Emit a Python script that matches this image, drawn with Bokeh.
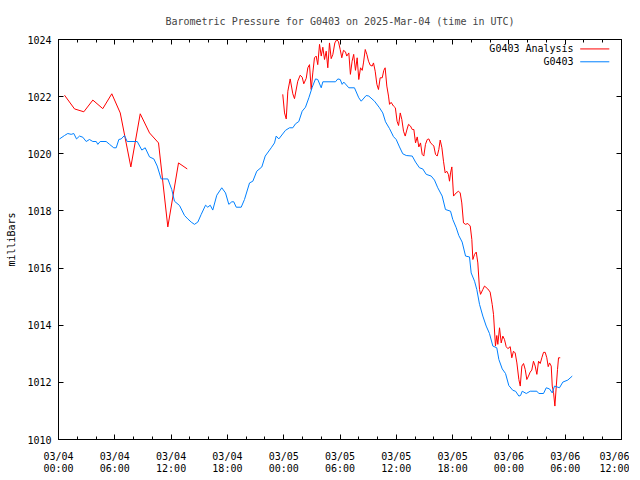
from bokeh.plotting import figure
from bokeh.models import Range1d, FixedTicker, LinearAxis, CustomJSTickFormatter
from bokeh.embed import file_html
from bokeh.resources import INLINE
from bokeh.core.properties import value

# hours since 2025-03-04 00:00 UTC
tick_hours = [0, 6, 12, 18, 24, 30, 36, 42, 48, 54, 60]
tick_labels = ["03/04\n00:00", "03/04\n06:00", "03/04\n12:00", "03/04\n18:00",
               "03/05\n00:00", "03/05\n06:00", "03/05\n12:00", "03/05\n18:00",
               "03/06\n00:00", "03/06\n06:00", "03/06\n12:00"]
y_ticks = [1010, 1012, 1014, 1016, 1018, 1020, 1022, 1024]

# G0403 Analysis (red), first segment
red1_hours = [0.64, 1.71, 2.70, 3.66, 4.72, 5.68, 6.58, 7.71, 8.71, 9.70, 10.66, 11.65, 12.79, 13.72]
red1_mb = [1022.05, 1021.57, 1021.47, 1021.88, 1021.58, 1022.10, 1021.43, 1019.54, 1021.40,
           1020.73, 1020.38, 1017.44, 1019.68, 1019.47]

# G0403 Analysis (red), second segment
red2_hours = [23.90, 24.09, 24.27, 24.44, 24.69, 24.97, 25.15, 25.50, 25.76, 25.97, 26.14, 26.40,
              26.57, 26.75, 26.93, 27.10, 27.28, 27.46, 27.63, 27.82, 28.00, 28.17, 28.35, 28.53,
              28.70, 28.88, 29.06, 29.24, 29.45, 29.66, 29.84, 30.02, 30.19, 30.37, 30.58, 30.72,
              30.94, 31.11, 31.29, 31.46, 31.65, 31.83, 32.00, 32.19, 32.37, 32.50, 32.69, 32.86,
              33.04, 33.22, 33.43, 33.57, 33.75, 33.93, 34.10, 34.28, 34.50, 34.67, 34.81, 34.99,
              35.17, 35.28, 35.45, 35.70, 35.90, 36.08, 36.24, 36.42, 36.59, 36.77, 36.95, 37.12,
              37.30, 37.51, 37.70, 37.87, 38.05, 38.23, 38.40, 38.58, 38.76, 38.93, 39.11, 39.30,
              39.47, 39.65, 39.83, 40.00, 40.18, 40.36, 40.53, 40.68, 40.86, 41.03, 41.21, 41.38,
              41.56, 41.67, 41.78, 41.92, 42.10, 42.38, 42.63, 42.81, 42.98, 43.16, 43.38, 43.62,
              43.88, 44.05, 44.16, 44.34, 44.52, 44.69, 44.87, 44.98, 45.22, 45.40, 45.75, 46.00,
              46.22, 46.36, 46.57, 46.71, 46.82, 47.00, 47.18, 47.35, 47.53, 47.71, 47.89, 48.14,
              48.31, 48.49, 48.67, 48.85, 49.06, 49.21, 49.38, 49.56, 49.74, 49.91, 50.09, 50.27,
              50.44, 50.62, 50.80, 50.98, 51.16, 51.34, 51.51, 51.69, 51.87, 52.04, 52.19, 52.33,
              52.51, 52.62, 52.76, 52.90, 53.05, 53.18, 53.29, 53.47]
red2_mb = [1022.08, 1021.43, 1021.22, 1022.19, 1022.62, 1022.10, 1021.93, 1022.54, 1022.75, 1022.68,
           1022.45, 1022.64, 1023.01, 1023.12, 1022.25, 1022.83, 1023.36, 1023.42, 1023.12, 1023.83,
           1023.42, 1023.73, 1023.30, 1023.59, 1023.01, 1023.88, 1023.33, 1023.48, 1023.88, 1024.00,
           1023.92, 1023.65, 1023.36, 1023.62, 1023.57, 1023.42, 1023.53, 1022.78, 1023.24, 1023.48,
           1022.92, 1023.36, 1022.60, 1023.01, 1022.92, 1023.18, 1023.65, 1023.48, 1023.24, 1023.10,
           1023.07, 1023.18, 1022.89, 1022.43, 1022.25, 1022.66, 1022.66, 1022.92, 1023.01, 1022.37,
           1022.02, 1021.73, 1021.80, 1021.67, 1021.61, 1021.14, 1020.99, 1021.43, 1021.20, 1020.79,
           1020.62, 1020.83, 1021.03, 1020.97, 1020.85, 1020.85, 1020.38, 1020.59, 1020.24, 1020.38,
           1019.98, 1019.92, 1020.33, 1020.50, 1020.52, 1020.38, 1020.33, 1020.27, 1019.98, 1019.92,
           1020.15, 1020.48, 1020.21, 1019.74, 1019.33, 1019.39, 1019.27, 1019.04, 1019.33, 1019.54,
           1018.52, 1018.63, 1018.69, 1018.63, 1018.28, 1017.58, 1017.53, 1017.56, 1017.47, 1017.00,
           1016.30, 1016.48, 1016.56, 1016.18, 1015.25, 1015.08, 1015.25, 1015.37, 1015.27, 1015.16,
           1014.73, 1014.38, 1013.27, 1013.64, 1013.33, 1013.91, 1013.38, 1013.62, 1013.50, 1013.25,
           1013.18, 1013.25, 1012.86, 1013.09, 1013.03, 1012.68, 1012.10, 1011.87, 1012.57, 1012.66,
           1012.45, 1012.10, 1012.22, 1012.36, 1012.43, 1012.74, 1012.57, 1012.28, 1012.74, 1012.66,
           1012.86, 1013.05, 1013.05, 1012.86, 1012.55, 1012.68, 1012.57, 1011.87, 1011.64, 1011.17,
           1011.87, 1012.45, 1012.86, 1012.86]

# G0403 observations (blue)
blue_hours = [0.11, 0.64, 0.99, 1.35, 1.63, 1.92, 2.24, 2.59, 2.95, 3.30, 3.66, 4.02, 4.19, 4.44,
              5.08, 5.44, 5.89, 6.15, 6.43, 6.68, 7.03, 7.32, 8.39, 8.88, 9.24, 9.70, 10.16, 10.52,
              10.94, 11.65, 12.07, 12.36, 12.90, 13.43, 13.78, 14.14, 14.49, 14.85, 15.21, 15.67,
              15.91, 16.17, 16.44, 16.87, 17.40, 17.80, 18.15, 18.47, 18.68, 18.94, 19.47, 19.82,
              20.36, 20.71, 21.13, 21.67, 22.03, 22.67, 23.02, 23.20, 23.48, 24.19, 24.62, 24.97,
              25.26, 25.61, 25.97, 26.32, 26.68, 27.04, 27.39, 27.63, 28.00, 28.17, 29.52, 29.77,
              30.02, 30.23, 30.40, 30.94, 31.54, 32.00, 32.26, 32.79, 33.07, 33.68, 34.21, 34.56,
              34.85, 35.28, 35.70, 35.99, 36.34, 36.69, 37.06, 37.70, 38.05, 38.47, 38.82, 39.19,
              39.72, 40.07, 40.42, 40.89, 41.24, 41.78, 42.02, 42.39, 42.66, 43.02, 43.38, 43.80,
              43.98, 44.34, 44.58, 44.87, 45.22, 45.58, 45.93, 46.29, 46.71, 46.93, 47.29, 47.64,
              47.99, 48.42, 48.71, 49.06, 49.24, 49.42, 49.85, 50.27, 50.98, 51.19, 51.69, 51.98,
              52.33, 52.62, 52.86, 53.39, 53.75, 54.28, 54.75]
blue_mb = [1020.52, 1020.64, 1020.71, 1020.68, 1020.71, 1020.52, 1020.62, 1020.58, 1020.43, 1020.50,
           1020.43, 1020.43, 1020.33, 1020.43, 1020.43, 1020.33, 1020.21, 1020.21, 1020.50, 1020.52,
           1020.64, 1020.43, 1020.43, 1020.13, 1020.21, 1019.89, 1019.82, 1019.57, 1019.12, 1019.12,
           1018.75, 1018.34, 1018.19, 1017.84, 1017.72, 1017.61, 1017.53, 1017.61, 1017.88, 1018.20,
           1018.13, 1018.20, 1018.03, 1018.55, 1018.81, 1018.63, 1018.23, 1018.32, 1018.32, 1018.13,
           1018.13, 1018.40, 1018.98, 1019.04, 1019.39, 1019.54, 1019.92, 1020.21, 1020.38, 1020.62,
           1020.52, 1020.82, 1020.91, 1020.91, 1021.05, 1021.13, 1021.49, 1021.63, 1021.96, 1022.33,
           1022.62, 1022.60, 1022.31, 1022.52, 1022.52, 1022.62, 1022.60, 1022.43, 1022.51, 1022.31,
           1022.31, 1021.96, 1021.84, 1022.04, 1022.02, 1021.84, 1021.61, 1021.43, 1021.12, 1020.88,
           1020.60, 1020.50, 1020.24, 1020.00, 1019.94, 1019.92, 1019.71, 1019.51, 1019.47, 1019.28,
           1019.22, 1019.08, 1018.81, 1018.52, 1018.05, 1017.99, 1017.70, 1017.41, 1017.14, 1016.91,
           1016.42, 1016.39, 1015.83, 1015.54, 1015.25, 1014.73, 1014.32, 1013.97, 1013.71, 1013.27,
           1013.21, 1012.80, 1012.47, 1012.31, 1011.89, 1011.72, 1011.69, 1011.52, 1011.54, 1011.69,
           1011.61, 1011.69, 1011.69, 1011.61, 1011.61, 1011.81, 1011.77, 1011.63, 1011.87, 1011.81,
           1012.01, 1012.08, 1012.22]

series_names = ["G0403 Analysis", "G0403"]
series_colors = ["#ff0000", "#0080ff"]

FONT = "DejaVu Sans Mono"
FS = "10px"

p = figure(frame_width=563, frame_height=400,
           x_range=Range1d(0, 60), y_range=Range1d(1010, 1024),
           output_backend="svg", toolbar_location=None,
           min_border_left=58, min_border_top=39, min_border_right=8, min_border_bottom=5,
           title="Barometric Pressure for G0403 on 2025-Mar-04 (time in UTC)")
p.title.text_font = FONT
p.title.text_font_size = FS
p.title.text_font_style = "normal"
p.title.align = "center"
p.title.standoff = 26
p.xgrid.visible = False
p.ygrid.visible = False
p.outline_line_color = "black"
p.outline_line_alpha = 1.0
p.background_fill_color = "white"
p.border_fill_color = "white"

xt = FixedTicker(ticks=tick_hours, minor_ticks=list(range(0, 61, 2)))
yt = FixedTicker(ticks=y_ticks, minor_ticks=[])

def style_axis(ax):
    ax.axis_line_color = "black"
    ax.major_tick_line_color = "black"
    ax.minor_tick_line_color = "black"
    ax.major_tick_in = 5
    ax.major_tick_out = 0
    ax.minor_tick_in = 3
    ax.minor_tick_out = 0
    ax.major_label_text_font = FONT
    ax.major_label_text_font_size = FS
    ax.major_label_text_color = "black"
    ax.axis_label_text_font = FONT
    ax.axis_label_text_font_size = FS
    ax.axis_label_text_font_style = "normal"
    ax.axis_label_text_color = "black"

xa = p.xaxis[0]
xa.ticker = xt
xa.major_label_overrides = {h: lab for h, lab in zip(tick_hours, tick_labels)}
style_axis(xa)
xa.major_label_text_line_height = 1.1
xa.major_label_standoff = 11

ya = p.yaxis[0]
ya.ticker = yt
style_axis(ya)
ya.major_label_standoff = 7
ya.axis_label = "milliBars"
ya.axis_label_standoff = 7

blank = CustomJSTickFormatter(code="return '';")

top = LinearAxis(ticker=xt, formatter=blank)
style_axis(top)
top.major_label_standoff = 0
p.add_layout(top, "above")

right = LinearAxis(ticker=yt, formatter=blank)
style_axis(right)
right.minor_tick_in = 0
right.major_label_standoff = 0
p.add_layout(right, "right")

p.line(red1_hours, red1_mb, line_color=series_colors[0], line_width=1)
p.line(red2_hours, red2_mb, line_color=series_colors[0], line_width=1)
p.line(blue_hours, blue_mb, line_color=series_colors[1], line_width=1)

# key (gnuplot style: text then line sample), top right inside the frame
key_y = [1023.67, 1023.22]
p.text(x=[54.9, 54.9], y=key_y, text=series_names, text_align="right", text_baseline="middle",
       text_font=value(FONT), text_font_size=value(FS), text_color="black")
p.segment(x0=[55.6, 55.6], y0=key_y, x1=[58.7, 58.7], y1=key_y,
          line_color=series_colors, line_width=1)

open("out.html", "w").write(file_html(p, INLINE))
